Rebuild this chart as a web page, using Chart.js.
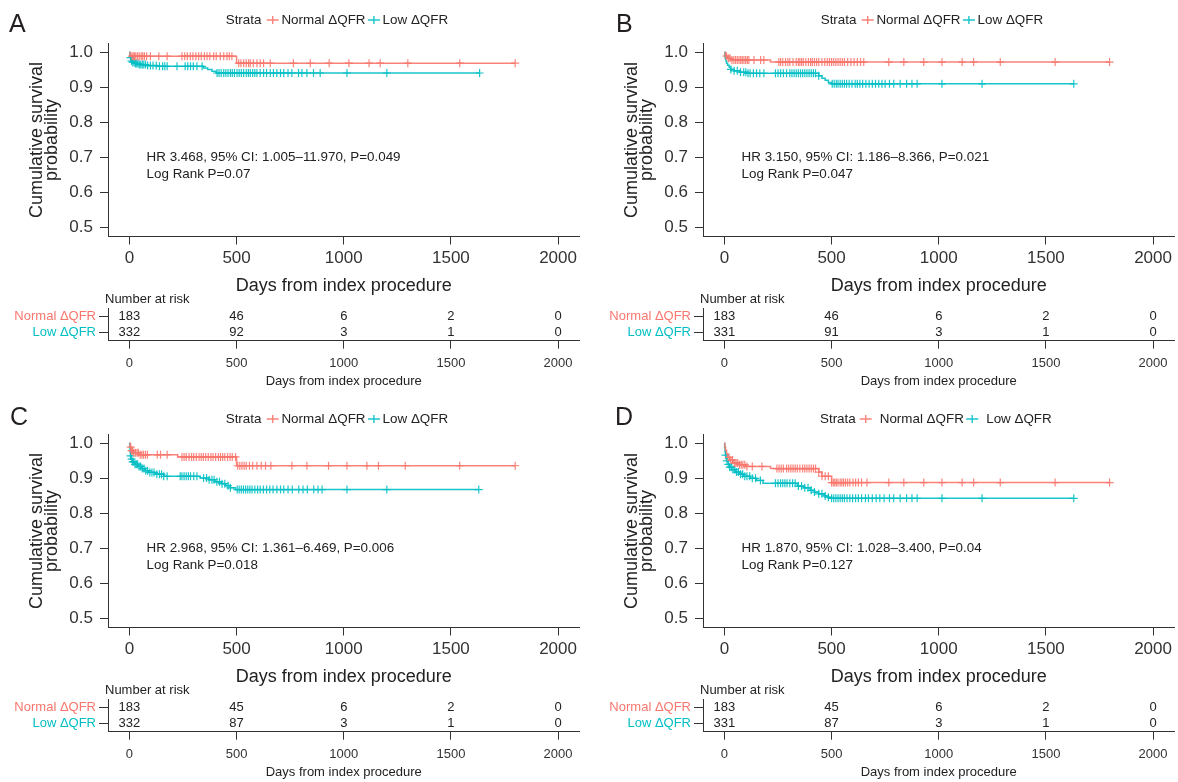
<!DOCTYPE html>
<html>
<head>
<meta charset="utf-8">
<script src="https://cdn.jsdelivr.net/npm/chart.js@4.4.1/dist/chart.umd.min.js"></script>
<style>
  body { margin: 0; background: #fff; width: 1178px; height: 782px; position: relative; overflow: hidden; }
  .panel { position: absolute; width: 590px; height: 391px; }
  .panel canvas { position: absolute; left: 0; }
</style>
</head>
<body>
<div class="panel" id="pA" style="left:0;top:0"><canvas id="kmA" width="590" height="300" style="top:0"></canvas><canvas id="riskA" width="590" height="101" style="top:290px"></canvas></div>
<div class="panel" id="pB" style="left:595px;top:0"><canvas id="kmB" width="590" height="300" style="top:0"></canvas><canvas id="riskB" width="590" height="101" style="top:290px"></canvas></div>
<div class="panel" id="pC" style="left:0;top:391px"><canvas id="kmC" width="590" height="300" style="top:0"></canvas><canvas id="riskC" width="590" height="101" style="top:290px"></canvas></div>
<div class="panel" id="pD" style="left:595px;top:391px"><canvas id="kmD" width="590" height="300" style="top:0"></canvas><canvas id="riskD" width="590" height="101" style="top:290px"></canvas></div>
<script>
// shared axes and strata
const timeTicks = [0, 500, 1000, 1500, 2000];
const survTicks = [0.5, 0.6, 0.7, 0.8, 0.9, 1.0];
const groups = ['Normal ΔQFR', 'Low ΔQFR'];

// A
const aNormalTime = [0, 3, 6, 500];
const aNormalSurv = [1, 0.994, 0.989, 0.969];
const aNormalCensor = [12, 18, 24, 30, 38, 46, 55, 62, 70, 80, 98, 137, 176, 245, 258, 270, 284, 296, 310, 323, 335, 350, 362, 375, 393, 405, 424, 440, 455, 466, 478, 510, 520, 533, 545, 556, 564, 578, 595, 610, 626, 657, 765, 844, 932, 1024, 1118, 1170, 1299, 1541, 1800];
const aLowTime = [0, 2, 4, 6, 10, 15, 25, 45, 80, 130, 345, 365, 385, 405];
const aLowSurv = [1, 0.991, 0.985, 0.979, 0.975, 0.971, 0.968, 0.965, 0.962, 0.960, 0.955, 0.951, 0.946, 0.941];
const aLowCensor = [5, 10, 16, 22, 28, 34, 40, 46, 53, 60, 67, 75, 85, 98, 110, 125, 140, 155, 165, 176, 222, 260, 272, 285, 298, 315, 339, 409, 418, 428, 440, 450, 460, 471, 480, 490, 502, 512, 522, 533, 545, 555, 564, 575, 585, 595, 610, 626, 640, 657, 672, 688, 705, 720, 740, 758, 789, 805, 828, 859, 890, 1015, 1201, 1634];
const aRiskNormal = [183, 46, 6, 2, 0];
const aRiskLow = [332, 92, 3, 1, 0];
const aStats = ['HR 3.468, 95% CI: 1.005–11.970, P=0.049', 'Log Rank P=0.07'];

// B
const bNormalTime = [0, 3, 8, 15, 30, 215];
const bNormalSurv = [1, 0.994, 0.989, 0.983, 0.978, 0.972];
const bNormalCensor = [10, 18, 26, 35, 44, 52, 60, 68, 76, 83, 91, 99, 107, 114, 138, 169, 184, 254, 262, 272, 285, 296, 305, 320, 335, 345, 352, 360, 368, 380, 392, 402, 410, 420, 430, 440, 455, 468, 480, 490, 500, 510, 520, 530, 540, 550, 560, 575, 590, 605, 620, 635, 650, 767, 837, 930, 1015, 1109, 1163, 1287, 1543, 1797];
const bLowTime = [0, 2, 4, 7, 10, 15, 22, 30, 45, 70, 110, 440, 455, 470, 485, 500];
const bLowSurv = [1, 0.991, 0.982, 0.975, 0.969, 0.963, 0.957, 0.951, 0.947, 0.943, 0.940, 0.933, 0.926, 0.920, 0.914, 0.910];
const bLowCensor = [30, 45, 60, 75, 90, 100, 110, 120, 135, 150, 165, 184, 238, 250, 262, 275, 290, 305, 315, 325, 335, 345, 355, 365, 375, 385, 395, 405, 415, 425, 440, 503, 512, 522, 530, 540, 550, 560, 570, 582, 595, 610, 620, 632, 645, 660, 675, 690, 705, 720, 735, 750, 770, 790, 820, 850, 875, 899, 1015, 1202, 1630];
const bRiskNormal = [183, 46, 6, 2, 0];
const bRiskLow = [331, 91, 3, 1, 0];
const bStats = ['HR 3.150, 95% CI: 1.186–8.366, P=0.021', 'Log Rank P=0.047'];

// C
const cNormalTime = [0, 3, 8, 20, 50, 225, 500];
const cNormalSurv = [1, 0.989, 0.979, 0.973, 0.967, 0.961, 0.936];
const cNormalCensor = [6, 10, 15, 20, 28, 36, 42, 50, 58, 66, 75, 84, 130, 145, 176, 245, 255, 265, 278, 290, 300, 312, 325, 335, 345, 356, 368, 380, 390, 402, 415, 425, 435, 445, 458, 470, 480, 495, 505, 515, 525, 535, 545, 560, 575, 595, 615, 635, 660, 758, 828, 929, 1015, 1108, 1162, 1287, 1541, 1800];
const cLowTime = [0, 1, 3, 5, 8, 15, 25, 40, 55, 70, 90, 120, 160, 330, 370, 400, 430, 450, 470, 495];
const cLowSurv = [1, 0.988, 0.976, 0.964, 0.955, 0.947, 0.940, 0.934, 0.928, 0.922, 0.917, 0.912, 0.906, 0.901, 0.896, 0.890, 0.885, 0.879, 0.873, 0.868];
const cLowCensor = [5, 10, 15, 20, 26, 32, 38, 45, 52, 60, 68, 76, 85, 95, 105, 115, 128, 140, 150, 160, 176, 237, 245, 255, 265, 275, 285, 300, 315, 346, 360, 372, 385, 395, 408, 420, 432, 445, 460, 471, 503, 512, 522, 532, 542, 552, 562, 572, 585, 598, 610, 625, 640, 655, 670, 688, 705, 720, 740, 760, 790, 810, 830, 860, 880, 899, 1015, 1201, 1630];
const cRiskNormal = [183, 45, 6, 2, 0];
const cRiskLow = [332, 87, 3, 1, 0];
const cStats = ['HR 2.968, 95% CI: 1.361–6.469, P=0.006', 'Log Rank P=0.018'];

// D
const dNormalTime = [0, 2, 5, 10, 15, 25, 40, 70, 100, 215, 440, 455, 500];
const dNormalSurv = [1, 0.990, 0.980, 0.970, 0.960, 0.952, 0.944, 0.939, 0.934, 0.928, 0.918, 0.906, 0.888];
const dNormalCensor = [21, 30, 38, 46, 54, 62, 70, 78, 86, 95, 105, 130, 175, 245, 255, 265, 275, 290, 300, 310, 320, 330, 340, 352, 365, 375, 385, 395, 405, 415, 425, 440, 455, 470, 485, 500, 508, 515, 522, 530, 540, 548, 556, 565, 575, 585, 600, 612, 625, 640, 665, 767, 837, 930, 1015, 1109, 1163, 1287, 1543, 1797];
const dLowTime = [0, 1, 3, 5, 8, 12, 18, 25, 35, 50, 70, 90, 120, 150, 180, 340, 370, 400, 420, 440, 465, 485, 500];
const dLowSurv = [1, 0.988, 0.976, 0.966, 0.958, 0.950, 0.940, 0.932, 0.925, 0.918, 0.912, 0.906, 0.900, 0.894, 0.886, 0.878, 0.873, 0.866, 0.861, 0.856, 0.850, 0.846, 0.843];
const dLowCensor = [5, 12, 18, 25, 32, 40, 48, 56, 65, 75, 85, 95, 105, 118, 130, 145, 168, 238, 250, 262, 272, 282, 292, 305, 318, 330, 345, 360, 375, 390, 405, 420, 440, 455, 470, 485, 500, 510, 520, 530, 540, 550, 560, 572, 585, 598, 612, 625, 640, 658, 672, 690, 708, 725, 745, 770, 790, 820, 850, 875, 899, 1015, 1202, 1630];
const dRiskNormal = [183, 45, 6, 2, 0];
const dRiskLow = [331, 87, 3, 1, 0];
const dStats = ['HR 1.870, 95% CI: 1.028–3.400, P=0.04', 'Log Rank P=0.127'];

const colors = ['#F8766D', '#00BFC4'];
const lineColors = ['rgba(248,118,109,0.9)', 'rgba(0,191,196,0.9)'];
const axisColor = '#333';
const FONT = '"Liberation Sans", Arial, sans-serif';
Chart.defaults.font.family = FONT;
Chart.defaults.color = '#333';

function survAt(times, surv, t) {
  let s = surv[0];
  for (let i = 0; i < times.length; i++) if (times[i] <= t) s = surv[i];
  return s;
}
// KM step curve, carried flat to the last follow-up time
function curve(times, surv, censor) {
  const pts = times.map((t, i) => ({ x: t, y: surv[i] }));
  pts.push({ x: Math.max(...censor), y: surv[surv.length - 1] });
  return pts;
}
function marks(times, surv, censor) {
  return censor.map(t => ({ x: t, y: survAt(times, surv, t) }));
}

function timeAxis(fontSize, titleSize, tickPad, titlePad, height) {
  return {
    type: 'linear', min: -100, max: 2100,
    afterBuildTicks: s => { s.ticks = timeTicks.map(v => ({ value: v })); },
    afterFit: s => { s.height = height; },
    grid: { drawOnChartArea: false, tickLength: 8, color: axisColor, lineWidth: 1 },
    border: { color: axisColor, width: 1 },
    ticks: { font: { size: fontSize }, color: '#333', padding: tickPad, maxRotation: 0, callback: v => String(v) },
    title: { display: true, text: 'Days from index procedure', font: { size: titleSize }, color: '#222', padding: { top: 0, bottom: titlePad } }
  };
}

// letter, strata legend and HR text over the survival plot
const kmDecor = {
  id: 'kmDecor',
  afterDraw(chart, args, o) {
    const ctx = chart.ctx;
    ctx.save();
    ctx.fillStyle = '#231f20';
    ctx.textBaseline = 'middle';
    ctx.textAlign = 'left';
    ctx.font = '25px ' + FONT;
    ctx.fillText(o.letter, o.letterX, o.letterY);

    ctx.font = '13.4px ' + FONT;
    ctx.fillStyle = '#222';
    let x = o.legendX;
    const y = o.legendY;
    ctx.fillText('Strata', x, y);
    x += ctx.measureText('Strata').width + o.gapA;
    groups.forEach((g, i) => {
      ctx.strokeStyle = lineColors[i];
      ctx.lineWidth = 1.4;
      ctx.beginPath();
      ctx.moveTo(x, y); ctx.lineTo(x + 12, y);
      ctx.moveTo(x + 6, y - 4); ctx.lineTo(x + 6, y + 4);
      ctx.stroke();
      x += 12 + o.gapB;
      ctx.fillStyle = '#222';
      ctx.fillText(g, x, y);
      x += ctx.measureText(g).width + 2.4;
    });

    const sx = chart.scales.x.getPixelForValue(80);
    const sy = chart.scales.y.getPixelForValue(0.7);
    o.stats.forEach((s, i) => ctx.fillText(s, sx, sy + i * 16.4));
    ctx.restore();
  }
};

// counts in the number-at-risk table
const riskText = {
  id: 'riskText',
  afterDatasetsDraw(chart) {
    const ctx = chart.ctx;
    ctx.save();
    ctx.fillStyle = '#222';
    ctx.font = '13px ' + FONT;
    ctx.textBaseline = 'middle';
    ctx.textAlign = 'left';
    ctx.fillText('Number at risk', chart.chartArea.left - 3, 9);
    ctx.textAlign = 'center';
    chart.data.datasets.forEach((ds, di) => {
      chart.getDatasetMeta(di).data.forEach((el, i) => ctx.fillText(String(ds.counts[i]), el.x, el.y));
    });
    ctx.restore();
  }
};

function makePanel(key, p) {
  const sets = [];
  [[p.nT, p.nS, p.nC], [p.lT, p.lS, p.lC]].forEach(([t, s, c], i) => {
    sets.push({ label: groups[i], data: curve(t, s, c), borderColor: lineColors[i], borderWidth: 1.5,
      stepped: true, pointRadius: 0, fill: false });
    sets.push({ label: groups[i] + ' censored', data: marks(t, s, c), showLine: false, pointStyle: 'cross',
      pointRadius: 4, borderColor: lineColors[i], borderWidth: 1.2 });
  });

  new Chart(document.getElementById('km' + key), {
    type: 'line',
    data: { datasets: sets },
    options: {
      responsive: false, animation: false,
      layout: { padding: { left: 0, top: 43.5, right: 10.5, bottom: 0 } },
      plugins: {
        legend: { display: false }, tooltip: { enabled: false },
        kmDecor: { letter: key, letterX: p.letterX, letterY: p.letterY, legendX: p.legendX, legendY: p.legendY,
          gapA: p.gapA, gapB: p.gapB, stats: p.stats }
      },
      scales: {
        x: timeAxis(17, 18, 3.3, 3.2, 63.5),
        y: {
          min: 0.475, max: 1.025,
          afterBuildTicks: s => { s.ticks = survTicks.map(v => ({ value: v })); },
          afterFit: s => { s.width = 108; },
          grid: { drawOnChartArea: false, tickLength: 8, color: axisColor },
          border: { color: axisColor, width: 1 },
          ticks: { font: { size: 17 }, color: '#333', padding: 7, callback: v => v.toFixed(1) },
          title: { display: true, text: ['Cumulative survival', 'probability'], color: '#222',
            font: { size: 18, lineHeight: 0.85 }, padding: { top: 29, bottom: 0 } }
        }
      }
    },
    plugins: [kmDecor]
  });

  new Chart(document.getElementById('risk' + key), {
    type: 'scatter',
    data: {
      datasets: [
        { data: timeTicks.map(t => ({ x: t, y: groups[0] })), counts: p.rN, pointRadius: 0 },
        { data: timeTicks.map(t => ({ x: t, y: groups[1] })), counts: p.rL, pointRadius: 0 }
      ]
    },
    options: {
      responsive: false, animation: false,
      layout: { padding: { left: 0, top: 18.7, right: 10.5, bottom: 0 } },
      plugins: { legend: { display: false }, tooltip: { enabled: false } },
      scales: {
        x: timeAxis(13, 13, 7.2, 1.5, 50.3),
        y: {
          type: 'category', labels: groups, offset: true,
          afterFit: s => { s.width = 108; },
          grid: { drawOnChartArea: false, offset: false, tickLength: 9, color: axisColor },
          border: { color: axisColor, width: 1 },
          ticks: { font: { size: 13 }, padding: 3, autoSkip: false, color: c => colors[c.index] }
        }
      }
    },
    plugins: [riskText]
  });
}

makePanel('A', { nT: aNormalTime, nS: aNormalSurv, nC: aNormalCensor, lT: aLowTime, lS: aLowSurv, lC: aLowCensor,
  rN: aRiskNormal, rL: aRiskLow, stats: aStats, letterX: 9, letterY: 25, legendX: 225.7, legendY: 20, gapA: 5.3, gapB: 2.7 });
makePanel('B', { nT: bNormalTime, nS: bNormalSurv, nC: bNormalCensor, lT: bLowTime, lS: bLowSurv, lC: bLowCensor,
  rN: bRiskNormal, rL: bRiskLow, stats: bStats, letterX: 21, letterY: 25, legendX: 225.7, legendY: 20, gapA: 5.3, gapB: 2.7 });
makePanel('C', { nT: cNormalTime, nS: cNormalSurv, nC: cNormalCensor, lT: cLowTime, lS: cLowSurv, lC: cLowCensor,
  rN: cRiskNormal, rL: cRiskLow, stats: cStats, letterX: 10, letterY: 27, legendX: 225.7, legendY: 28, gapA: 5.3, gapB: 2.7 });
makePanel('D', { nT: dNormalTime, nS: dNormalSurv, nC: dNormalCensor, lT: dLowTime, lS: dLowSurv, lC: dLowCensor,
  rN: dRiskNormal, rL: dRiskLow, stats: dStats, letterX: 20, letterY: 27, legendX: 225, legendY: 28, gapA: 4, gapB: 8 });
</script>
</body>
</html>
